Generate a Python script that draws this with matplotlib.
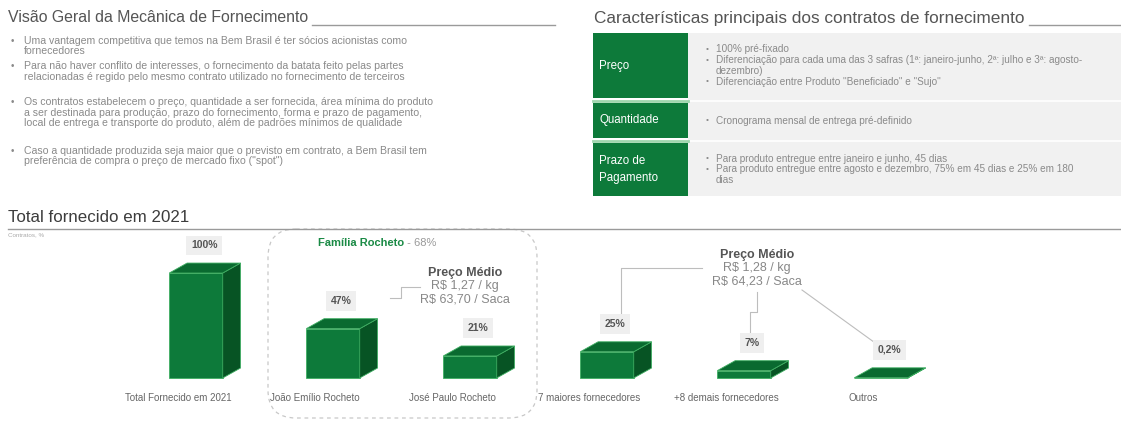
import matplotlib.pyplot as plt
from matplotlib.patches import Polygon, Rectangle, FancyBboxPatch

plt.rcParams["font.family"] = ["Liberation Sans", "DejaVu Sans"]

# Supply volume by supplier group
categories = ["Total Fornecido em 2021", "João Emílio Rocheto", "José Paulo Rocheto",
              "7 maiores fornecedores", "+8 demais fornecedores", "Outros"]
shares = [100, 47, 21, 25, 7, 0.2]
share_labels = ["100%", "47%", "21%", "25%", "7%", "0,2%"]

family_name = "Família Rocheto"
family_share = "68%"
price_family = ["Preço Médio", "R$ 1,27 / kg", "R$ 63,70 / Saca"]
price_others = ["Preço Médio", "R$ 1,28 / kg", "R$ 64,23 / Saca"]

overview_title = "Visão Geral da Mecânica de Fornecimento"
overview_bullets = [
    ["Uma vantagem competitiva que temos na Bem Brasil é ter sócios acionistas como",
     "fornecedores"],
    ["Para não haver conflito de interesses, o fornecimento da batata feito pelas partes",
     "relacionadas é regido pelo mesmo contrato utilizado no fornecimento de terceiros"],
    ["Os contratos estabelecem o preço, quantidade a ser fornecida, área mínima do produto",
     "a ser destinada para produção, prazo do fornecimento, forma e prazo de pagamento,",
     "local de entrega e transporte do produto, além de padrões mínimos de qualidade"],
    ["Caso a quantidade produzida seja maior que o previsto em contrato, a Bem Brasil tem",
     "preferência de compra o preço de mercado fixo (\"spot\")"],
]
bullet_rows = [41, 66, 102, 151]

contract_title = "Características principais dos contratos de fornecimento"
contract_rows = ["Preço", "Quantidade", "Prazo de\nPagamento"]
contract_items = [
    ["100% pré-fixado",
     "Diferenciação para cada uma das 3 safras (1ª: janeiro-junho, 2ª: julho e 3ª: agosto-\ndezembro)",
     "Diferenciação entre Produto \"Beneficiado\" e \"Sujo\""],
    ["Cronograma mensal de entrega pré-definido"],
    ["Para produto entregue entre janeiro e junho, 45 dias",
     "Para produto entregue entre agosto e dezembro, 75% em 45 dias e 25% em 180\ndias"],
]

GREEN = "#0d7a3a"
GREEN_SIDE = "#075424"
GREEN_TOP = "#0a6a30"
TXT = "#8a8a8a"

fig = plt.figure(figsize=(11.21, 4.21), dpi=100)
ax = fig.add_axes([0, 0, 1, 1])
ax.set_xlim(0, 1121)
ax.set_ylim(421, 0)
ax.axis("off")
renderer = fig.canvas.get_renderer()


def right_edge(txt):
    # x position (axes px) where a drawn text ends
    bb = txt.get_window_extent(renderer)
    return ax.transData.inverted().transform((bb.x1, bb.y0))[0]


# --- left block: overview bullets ---
t = ax.text(8, 18, overview_title, fontsize=11.4, color="#555555", va="center")
ax.plot([right_edge(t) + 4, 555], [25, 25], color="#9a9a9a", lw=1)
for y, lines in zip(bullet_rows, overview_bullets):
    ax.text(11, y, "•", fontsize=7, color=TXT, va="center")
    for ln in lines:
        ax.text(24, y, ln, fontsize=7.6, color=TXT, va="center")
        y += 10.5

# --- right block: contract characteristics ---
t = ax.text(594, 18, contract_title, fontsize=12.4, color="#555555", va="center")
ax.plot([right_edge(t) + 4, 1121], [25, 25], color="#9a9a9a", lw=1)
ax.add_patch(Rectangle((688, 33), 440, 163, color="#f1f1f1", lw=0))
for ys in (100.5, 140.5):
    ax.plot([688, 1121], [ys, ys], color="white", lw=1.2)
rows_y = [(33, 98), (103, 138), (143, 196)]
for (y0, y1), name, items in zip(rows_y, contract_rows, contract_items):
    ax.add_patch(Rectangle((593, y0), 95, y1 - y0, color=GREEN, lw=0))
    ax.text(599, (y0 + y1) / 2, name, fontsize=8.3, color="white", va="center",
            linespacing=1.5)
    n = sum(it.count("\n") + 1 for it in items)
    yy = (y0 + y1) / 2 - (n - 1) * 10.8 / 2
    for it in items:
        ax.text(706, yy, "•", fontsize=6, color=TXT, va="center")
        for ln in it.split("\n"):
            ax.text(716, yy, ln, fontsize=7.2, color=TXT, va="center")
            yy += 10.8
for ys in (100.5, 140.5):
    ax.plot([593, 688], [ys, ys], color="#9fd6ad", lw=2)

# --- bottom block title ---
ax.text(8, 218, "Total fornecido em 2021", fontsize=12.2, color="#3c3c3c", va="center")
ax.plot([8, 1121], [228.5, 228.5], color="#9a9a9a", lw=1)
ax.text(8, 235, "Contratos, %", fontsize=4.5, color="#aaaaaa", va="center")

# dashed group outline for the family suppliers
ax.add_patch(FancyBboxPatch((268, 229), 269, 189, boxstyle="round,pad=0,rounding_size=28",
                            fill=False, ec="#c8c8c8", lw=0.9, ls=(0, (3, 3))))
t = ax.text(318, 243, family_name, fontsize=8, color="#1a8a45", fontweight="bold",
            va="center")
ax.text(right_edge(t), 243, " - " + family_share, fontsize=8, color="#999999",
        va="center")

# --- 3D bars in their own axes: x = category index, y = share in % ---
bx = fig.add_axes([100 / 1121, 1 - 420 / 421, 900 / 1121, 200 / 421])
bx.set_xlim(-96 / 137, 804 / 137)
bx.set_ylim(-40, 150.5)
bx.axis("off")
w = 0.39
dx, dy = 0.13, 9.5
for i, v in enumerate(shares):
    x0, x1 = i - w / 2, i + w / 2
    bx.add_patch(Polygon([(x0, 0), (x1, 0), (x1, v), (x0, v)], closed=True,
                         fc=GREEN, ec="#3fae62", lw=0.6))
    bx.add_patch(Polygon([(x1, 0), (x1 + dx, dy), (x1 + dx, v + dy), (x1, v)],
                         closed=True, fc=GREEN_SIDE, ec="#3fae62", lw=0.6))
    bx.add_patch(Polygon([(x0, v), (x1, v), (x1 + dx, v + dy), (x0 + dx, v + dy)],
                         closed=True, fc=GREEN_TOP, ec="#3fae62", lw=0.6))
    bx.text(i + 0.06, v + dy + 17, share_labels[i], fontsize=7.5, color="#555555",
            fontweight="bold", ha="center", va="center",
            bbox=dict(boxstyle="square,pad=0.45", fc="#efefef", ec="none"))
    bx.text(i - 0.13, -19, categories[i], fontsize=7, color="#666666",
            ha="center", va="center")

# --- average price callouts ---
for (cx, cy), lines in (((465, 273), price_family), ((757, 255), price_others)):
    ax.text(cx, cy, lines[0], fontsize=9, color="#555555", fontweight="bold",
            ha="center", va="center")
    ax.text(cx, cy + 13, lines[1], fontsize=9, color="#888888", ha="center", va="center")
    ax.text(cx, cy + 26, lines[2], fontsize=9, color="#888888", ha="center", va="center")

lc = dict(color="#bdbdbd", lw=0.8)
ax.plot([390, 401, 401, 420], [298, 298, 287, 287], **lc)
ax.plot([621, 621, 702], [318, 268, 268], **lc)
ax.plot([750, 750, 757, 757], [336, 312, 312, 292], **lc)
ax.plot([802, 878], [290, 345], **lc)

fig.savefig("out.png", dpi=100)
